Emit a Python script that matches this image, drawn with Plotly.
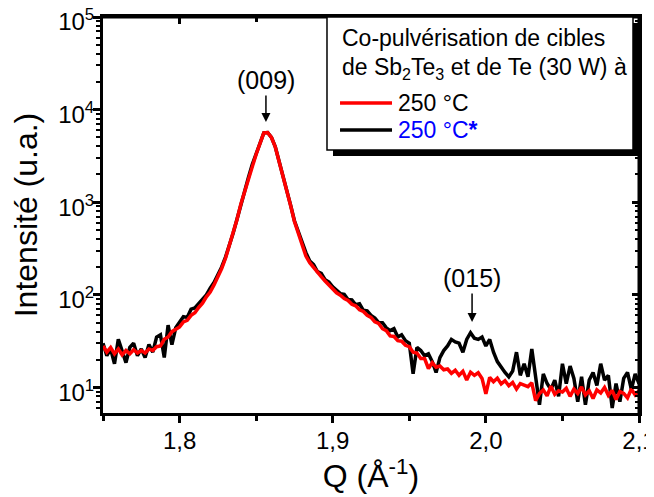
import plotly.graph_objects as go

# Q values (Å^-1)
q = [
    1.7500, 1.7525, 1.7550, 1.7575, 1.7600, 1.7625, 1.7650, 1.7675, 1.7700, 1.7725,
    1.7750, 1.7775, 1.7800, 1.7825, 1.7850, 1.7875, 1.7900, 1.7925, 1.7950, 1.7975,
    1.8000, 1.8025, 1.8050, 1.8075, 1.8100, 1.8125, 1.8150, 1.8175, 1.8200, 1.8225,
    1.8250, 1.8275, 1.8300, 1.8325, 1.8350, 1.8375, 1.8400, 1.8425, 1.8450, 1.8475,
    1.8500, 1.8525, 1.8550, 1.8575, 1.8600, 1.8625, 1.8650, 1.8675, 1.8700, 1.8725,
    1.8750, 1.8775, 1.8800, 1.8825, 1.8850, 1.8875, 1.8900, 1.8925, 1.8950, 1.8975,
    1.9000, 1.9025, 1.9050, 1.9075, 1.9100, 1.9125, 1.9150, 1.9175, 1.9200, 1.9225,
    1.9250, 1.9275, 1.9300, 1.9325, 1.9350, 1.9375, 1.9400, 1.9425, 1.9450, 1.9475,
    1.9500, 1.9525, 1.9550, 1.9575, 1.9600, 1.9625, 1.9650, 1.9675, 1.9700, 1.9725,
    1.9750, 1.9775, 1.9800, 1.9825, 1.9850, 1.9875, 1.9900, 1.9925, 1.9950, 1.9975,
    2.0000, 2.0025, 2.0050, 2.0075, 2.0100, 2.0125, 2.0150, 2.0175, 2.0200, 2.0225,
    2.0250, 2.0275, 2.0300, 2.0325, 2.0350, 2.0375, 2.0400, 2.0425, 2.0450, 2.0475,
    2.0500, 2.0525, 2.0550, 2.0575, 2.0600, 2.0625, 2.0650, 2.0675, 2.0700, 2.0725,
    2.0750, 2.0775, 2.0800, 2.0825, 2.0850, 2.0875, 2.0900, 2.0925, 2.0950, 2.0975,
    2.1000,
]

# 250 °C (red)
i_250 = [
    28, 24, 27, 23, 26, 22.5, 25, 23, 25.5, 23.5,
    25, 23.5, 26, 25, 27.5, 28, 33, 35, 40, 43,
    45, 51, 53, 60, 64, 73, 81, 95, 107, 128,
    155, 192, 248, 335, 460, 650, 950, 1320, 1850, 2550,
    3300, 4300, 5600, 5650, 5000, 3950, 2800, 1900, 1330, 920,
    620, 460, 340, 262, 222, 196, 174, 157, 141, 127,
    115, 105, 99, 91, 87, 79, 76, 69, 66, 60,
    57, 51, 49, 43, 41, 36, 35.5, 32, 31.5, 28.5,
    27.5, 24, 23.5, 20.5, 20.5, 16, 18.5, 16.5, 17, 15.5,
    15.8, 14.2, 15.3, 13.5, 14.9, 12.0, 14.6, 13.5, 14.4, 12.5,
    8.5, 12.8, 11.5, 12.6, 10.9, 11.8, 10.4, 11.3, 9.6, 11.0,
    10.6, 10.2, 11.2, 7.2, 8.6, 9.4, 8.1, 10.3, 8.4, 9.2,
    8.9, 9.8, 8.0, 9.6, 8.6, 10.1, 8.3, 9.2, 7.6, 9.4,
    8.7, 10.0, 8.2, 9.3, 7.4, 9.0, 8.6, 7.7, 9.6, 8.3,
    9.2,
]

# 250 °C* (black)
i_250s = [
    30, 22, 26, 18, 33, 24, 18.5, 27, 30, 22,
    26, 21, 29, 24, 35, 37, 21, 47, 29, 44,
    50, 58, 57, 70, 72, 80, 90, 100, 118, 136,
    165, 200, 255, 340, 465, 655, 955, 1325, 1860, 2560,
    3310, 4310, 5610, 5660, 5010, 3960, 2810, 1910, 1340, 930,
    630, 475, 355, 285, 232, 212, 178, 170, 146, 137,
    122, 113, 103, 101, 89, 88, 78, 80, 68, 67,
    60, 56, 50, 50, 44, 41, 43, 35, 37, 32,
    30, 14, 27, 25, 22, 23, 19, 14.5, 21, 25,
    28, 33, 31, 30, 24, 33, 39, 34, 33, 35,
    28, 33, 24, 19, 16.5, 14.5, 13, 15, 24, 13.5,
    18, 13, 26, 12, 6.5, 14, 11, 9.5, 12, 8,
    18, 11, 17, 12.5, 7, 13, 6.5, 12, 14.5, 10.5,
    18, 12, 13.5, 6, 11, 7, 12.5, 14.5, 9.5, 14,
    11,
]

series_names = ["250 °C", "250 °C<b>*</b>"]
series_colors = ["#ff0000", "#000000"]
label_colors = ["#000000", "#0000ff"]
legend_title = ["Co-pulvérisation de cibles", "de Sb<sub>2</sub>Te<sub>3</sub> et de Te (30 W) à"]
x_ticks = [1.8, 1.9, 2.0, 2.1]
x_ticktext = ["1,8", "1,9", "2,0", "2,1"]
y_ticks = [10, 100, 1000, 10000, 100000]
y_ticktext = ["10<sup>1</sup>", "10<sup>2</sup>", "10<sup>3</sup>", "10<sup>4</sup>", "10<sup>5</sup>"]
peaks = [("(009)", 1.8564), ("(015)", 1.991)]

FONT = "Arial, Liberation Sans, sans-serif"

fig = go.Figure()
# black first (underneath), red drawn on the overlaying subplot (on top)
fig.add_trace(go.Scatter(x=q, y=i_250s, name=series_names[1], mode="lines",
                         line=dict(color=series_colors[1], width=3.5), xaxis="x", yaxis="y",
                         showlegend=False))
fig.add_trace(go.Scatter(x=q, y=i_250, name=series_names[0], mode="lines",
                         line=dict(color=series_colors[0], width=3.5), xaxis="x2", yaxis="y2",
                         showlegend=False))

xr = [1.75, 2.1]
yr = [0.7235, 5]

common_x = dict(range=xr, showgrid=False, zeroline=False, tickvals=x_ticks, ticklen=7,
                tickwidth=2.5, tickcolor="black", automargin=False, ticklabeloverflow="allow",
                showline=True, linecolor="black", linewidth=3)
common_y = dict(type="log", range=yr, showgrid=False, zeroline=False, tickvals=y_ticks,
                ticklen=7, tickwidth=2.5, tickcolor="black", automargin=False,
                ticklabeloverflow="allow", showline=True, linecolor="black", linewidth=3)

fig.update_layout(
    width=654, height=497,
    margin=dict(l=95, r=23, t=9, b=92, autoexpand=False),
    paper_bgcolor="white", plot_bgcolor="white",
    font=dict(family=FONT, color="black"),
    xaxis=dict(**common_x, ticks="outside", ticktext=x_ticktext, mirror=True,
               tickfont=dict(size=24, family=FONT), ticklabelstandoff=-3,
               minor=dict(tickvals=[1.75, 1.85, 1.95, 2.05], ticks="outside", ticklen=5,
                          tickwidth=2.5, tickcolor="black"),
               title=dict(text="Q (Å<sup>-1</sup>)", font=dict(size=32, family=FONT), standoff=0)),
    xaxis2=dict(**common_x, overlaying="x", side="top", ticks="inside", showticklabels=False,
                minor=dict(tickvals=[1.75, 1.85, 1.95, 2.05], ticks="inside", ticklen=5,
                           tickwidth=2.5, tickcolor="black")),
    yaxis=dict(**common_y, ticks="outside", ticktext=y_ticktext, mirror=True,
               tickfont=dict(size=24, family=FONT), ticklabelstandoff=-6, ticklabelshift=5,
               minor=dict(dtick="D1", ticks="outside", ticklen=4, tickwidth=2, tickcolor="black"),
               title=dict(text="Intensité (u.a.)", font=dict(size=32, family=FONT), standoff=12)),
    yaxis2=dict(**common_y, overlaying="y", side="right", ticks="inside", showticklabels=False,
                minor=dict(dtick="D1", ticks="inside", ticklen=4, tickwidth=2, tickcolor="black")),
    showlegend=False,
)

# plot frame: top and right edges
fig.add_shape(type="line", xref="paper", yref="paper", x0=0, x1=1, y0=1, y1=1,
              line=dict(color="#000000", width=3), layer="above")
fig.add_shape(type="line", xref="paper", yref="paper", x0=1, x1=1, y0=0, y1=1,
              line=dict(color="#000000", width=3), layer="above")

# ---- legend box (drawn by hand to match the original framed legend with drop shadow) ----
fig.add_shape(type="rect", xref="paper", yref="paper", x0=0.4291, x1=1.0, y0=0.649, y1=0.9848,
              fillcolor="black", line=dict(width=0), layer="above")
fig.add_shape(type="rect", xref="paper", yref="paper", x0=0.4179, x1=0.9888, y0=0.6641, y1=1.0,
              fillcolor="white", line=dict(color="black", width=1.5), layer="above")
title_y = [0.947, 0.871]
for txt, ty in zip(legend_title, title_y):
    fig.add_annotation(xref="paper", yref="paper", x=0.443, y=ty, xanchor="left", yanchor="middle",
                       text=txt, showarrow=False, font=dict(size=23, family=FONT, color="black"))
item_y = [0.7828, 0.7146]
for name, col, lcol, iy in zip(series_names, series_colors, label_colors, item_y):
    fig.add_shape(type="line", xref="paper", yref="paper", x0=0.4422, x1=0.5392, y0=iy, y1=iy,
                  line=dict(color=col, width=3.5), layer="above")
    fig.add_annotation(xref="paper", yref="paper", x=0.5465, y=iy, xanchor="left", yanchor="middle",
                       text=name, showarrow=False, font=dict(size=23, family=FONT, color=lcol))

# peak labels with arrows
head_y = [3.866, 1.706]
arrow_len = [-42, -44]
for (txt, xq), hy, ay in zip(peaks, head_y, arrow_len):
    fig.add_annotation(x=xq, y=hy, xref="x", yref="y", text=txt, showarrow=True, ax=0, ay=ay,
                       arrowhead=2, arrowsize=1.2, arrowwidth=1.5, arrowcolor="black",
                       font=dict(size=25, family=FONT, color="black"))

fig.write_html("out.html")
